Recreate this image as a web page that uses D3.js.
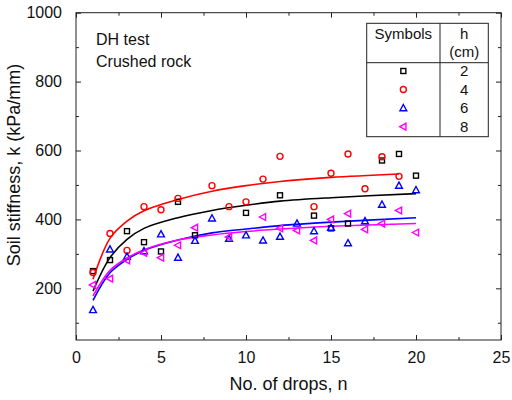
<!DOCTYPE html>
<html>
<head>
<meta charset="utf-8">
<script src="https://cdn.jsdelivr.net/npm/d3@7"></script>
<style>
  body { margin: 0; background: #fff; }
  svg { font-family: "Liberation Sans", Arial, sans-serif; }
</style>
</head>
<body>
<div id="chart"></div>
<script>
// measured points, n = number of drops, k = stiffness (kPa/mm)
const nH2 = [1, 2, 3, 4, 5, 6, 7, 10, 12, 14, 15, 16, 18, 19, 20];
const kH2 = [250, 282, 366, 334, 307, 451, 354, 419, 470, 411, 374, 388, 571, 590, 527];
const nH4 = [1, 2, 3, 4, 5, 6, 8, 9, 10, 11, 12, 14, 15, 16, 17, 18, 19];
const kH4 = [246, 359, 310, 437, 428, 461, 498, 437, 451, 517, 583, 437, 534, 590, 489, 582, 525];
const nH6 = [1, 2, 3, 4, 5, 6, 7, 8, 9, 10, 11, 12, 13, 14, 15, 16, 17, 18, 19, 20];
const kH6 = [137, 313, 292, 308, 357, 289, 338, 403, 344, 354, 339, 350, 388, 366, 376, 331, 395, 443, 498, 485];
const nH8 = [1, 2, 3, 4, 5, 6, 7, 9, 11, 12, 13, 14, 15, 16, 17, 18, 19, 20];
const kH8 = [210, 228, 281, 303, 289, 325, 376, 349, 407, 374, 368, 339, 400, 417, 371, 388, 426, 362];

// fitted trend lines
const fitN = [1, 2, 3, 4, 6, 8, 10, 12, 15, 20];
const fitNRed = [1, 2, 3, 4, 6, 8, 10, 12, 15, 19];
const fitH2 = [192, 289, 342, 374, 405, 426, 441, 453, 463, 475];
const fitH4 = [226, 345, 395, 425, 458, 482, 498, 510, 522, 532];
const fitH6 = [165, 245, 284, 310, 340, 361, 372, 382, 392, 405];
const fitH8 = [178, 252, 288, 312, 340, 355, 365, 372, 380, 388];

const heights = ["2", "4", "6", "8"];
const colors = ["#000000", "#ff0000", "#0000ff", "#ff00ff"];
const shapes = ["square", "circle", "triangle", "left"];

const xTicks = [0, 5, 10, 15, 20, 25];
const xMinor = [2.5, 7.5, 12.5, 17.5, 22.5];
const yTicks = [200, 400, 600, 800, 1000];
const yMinor = [100, 300, 500, 700, 900];

const svgWidth = 512;
const svgHeight = 400;
const margin = { top: 12.7, right: 11, bottom: 60, left: 76 };
const width = svgWidth - margin.left - margin.right;
const height = svgHeight - margin.top - margin.bottom;

const svg = d3.select("#chart")
  .append("svg")
  .attr("width", svgWidth)
  .attr("height", svgHeight);

const g = svg.append("g")
  .attr("transform", "translate(" + margin.left + "," + margin.top + ")");

const xScale = d3.scaleLinear().domain([0, 25]).range([0, width]);
const yScale = d3.scaleLinear().domain([50, 1000]).range([height, 0]);

// axes, ticks pointing inward on all four sides
function styleAxis(sel) {
  sel.select(".domain").remove();
  sel.selectAll("line").attr("stroke", "#222").attr("stroke-width", 1);
  sel.selectAll("text").attr("fill", "#111").style("font-size", "16px");
}

g.append("g")
  .attr("transform", "translate(0," + height + ")")
  .call(d3.axisBottom(xScale).tickValues(xTicks).tickSize(-5).tickPadding(12).tickFormat(d3.format("d")))
  .call(styleAxis);
g.append("g")
  .attr("transform", "translate(0," + height + ")")
  .call(d3.axisBottom(xScale).tickValues(xMinor).tickSize(-3).tickFormat(""))
  .call(styleAxis);
g.append("g")
  .call(d3.axisTop(xScale).tickValues(xTicks).tickSize(-5).tickFormat(""))
  .call(styleAxis);
g.append("g")
  .call(d3.axisTop(xScale).tickValues(xMinor).tickSize(-3).tickFormat(""))
  .call(styleAxis);

g.append("g")
  .call(d3.axisLeft(yScale).tickValues(yTicks).tickSize(-5).tickPadding(14).tickFormat(d3.format("d")))
  .call(styleAxis);
g.append("g")
  .call(d3.axisLeft(yScale).tickValues(yMinor).tickSize(-3).tickFormat(""))
  .call(styleAxis);
g.append("g")
  .attr("transform", "translate(" + width + ",0)")
  .call(d3.axisRight(yScale).tickValues(yTicks).tickSize(-5).tickFormat(""))
  .call(styleAxis);
g.append("g")
  .attr("transform", "translate(" + width + ",0)")
  .call(d3.axisRight(yScale).tickValues(yMinor).tickSize(-3).tickFormat(""))
  .call(styleAxis);

g.append("rect")
  .attr("width", width)
  .attr("height", height)
  .attr("fill", "none")
  .attr("stroke", "#222")
  .attr("stroke-width", 1);

// axis titles
svg.append("text")
  .attr("x", margin.left + width / 2)
  .attr("y", 390)
  .attr("text-anchor", "middle")
  .style("font-size", "18px")
  .attr("fill", "#111")
  .text("No. of drops, n");

svg.append("text")
  .attr("transform", "translate(20," + 165 + ") rotate(-90)")
  .attr("text-anchor", "middle")
  .style("font-size", "18px")
  .attr("fill", "#111")
  .text("Soil stiffness, k (kPa/mm)");

// fit lines
const line = d3.line()
  .x(function(d) { return xScale(d[0]); })
  .y(function(d) { return yScale(d[1]); })
  .curve(d3.curveCatmullRom.alpha(0.5));

const fits = [
  { n: fitN, k: fitH2, color: colors[0] },
  { n: fitNRed, k: fitH4, color: colors[1] },
  { n: fitN, k: fitH6, color: colors[2] },
  { n: fitN, k: fitH8, color: colors[3] }
];

fits.forEach(function(f) {
  g.append("path")
    .datum(d3.zip(f.n, f.k))
    .attr("d", line)
    .attr("fill", "none")
    .attr("stroke", f.color)
    .attr("stroke-width", 1.6);
});

// marker drawing
function marker(sel, shape, color) {
  let m;
  if (shape === "square") {
    m = sel.append("rect").attr("x", -2.5).attr("y", -2.5).attr("width", 5).attr("height", 5);
  } else if (shape === "circle") {
    m = sel.append("circle").attr("r", 3);
  } else if (shape === "triangle") {
    m = sel.append("path").attr("d", "M0,-3.6L3.4,2.6L-3.4,2.6Z");
  } else {
    m = sel.append("path").attr("d", "M-3.6,0L2.6,-3.4L2.6,3.4Z");
  }
  m.attr("fill", "none").attr("stroke", color).attr("stroke-width", 1.4);
}

const series = [
  { n: nH2, k: kH2 },
  { n: nH4, k: kH4 },
  { n: nH6, k: kH6 },
  { n: nH8, k: kH8 }
];

series.forEach(function(s, i) {
  g.append("g").selectAll("g")
    .data(d3.zip(s.n, s.k))
    .enter()
    .append("g")
    .attr("transform", function(d) {
      return "translate(" + xScale(d[0]) + "," + yScale(d[1]) + ")";
    })
    .each(function() { marker(d3.select(this), shapes[i], colors[i]); });
});

// annotation
svg.append("text")
  .attr("x", 96).attr("y", 45)
  .style("font-size", "16px").attr("fill", "#111")
  .text("DH test");
svg.append("text")
  .attr("x", 96).attr("y", 67)
  .style("font-size", "16px").attr("fill", "#111")
  .text("Crushed rock");

// legend table
const leg = svg.append("g");
const lx0 = 366.7, lx1 = 440, lx2 = 488.3;
const ly0 = 23.3, ly1 = 62.7, ly2 = 136.7;
leg.append("rect")
  .attr("x", lx0).attr("y", ly0)
  .attr("width", lx2 - lx0).attr("height", ly2 - ly0)
  .attr("fill", "#fff").attr("stroke", "#222").attr("stroke-width", 1);
leg.append("line")
  .attr("x1", lx1).attr("x2", lx1).attr("y1", ly0).attr("y2", ly2)
  .attr("stroke", "#222");
leg.append("line")
  .attr("x1", lx0).attr("x2", lx2).attr("y1", ly1).attr("y2", ly1)
  .attr("stroke", "#222");

leg.append("text")
  .attr("x", (lx0 + lx1) / 2).attr("y", 38.5)
  .attr("text-anchor", "middle").style("font-size", "15px").attr("fill", "#111")
  .text("Symbols");
leg.append("text")
  .attr("x", (lx1 + lx2) / 2).attr("y", 38.5)
  .attr("text-anchor", "middle").style("font-size", "15px").attr("fill", "#111")
  .text("h");
leg.append("text")
  .attr("x", (lx1 + lx2) / 2).attr("y", 56.5)
  .attr("text-anchor", "middle").style("font-size", "15px").attr("fill", "#111")
  .text("(cm)");

const rowY = d3.scaleLinear().domain([0, 3]).range([71, 126.7]);
heights.forEach(function(h, i) {
  const row = leg.append("g")
    .attr("transform", "translate(" + ((lx0 + lx1) / 2) + "," + rowY(i) + ")");
  marker(row, shapes[i], colors[i]);
  leg.append("text")
    .attr("x", (lx1 + lx2) / 2).attr("y", rowY(i) + 5)
    .attr("text-anchor", "middle").style("font-size", "15px").attr("fill", "#111")
    .text(h);
});
</script>
</body>
</html>
